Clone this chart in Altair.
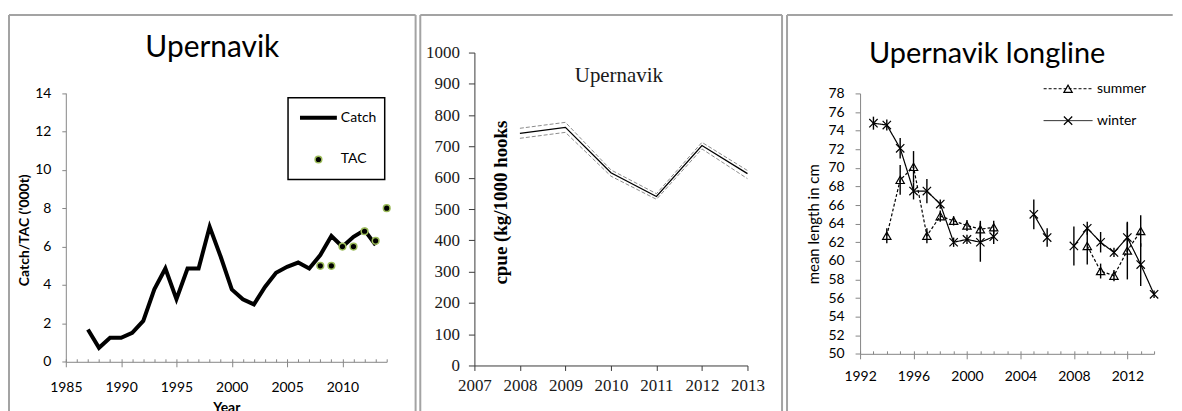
import altair as alt
import pandas as pd

# ---------------- Panel 1: catch and TAC ----------------
catch_years = list(range(1987, 2014))
catch_vals = [1.68, 0.73, 1.25, 1.25, 1.51, 2.13, 3.77, 4.86, 3.26, 4.86, 4.86,
              7.03, 5.47, 3.77, 3.26, 2.99, 3.90, 4.64, 4.95, 5.17, 4.86, 5.56,
              6.55, 5.99, 6.51, 6.86, 6.08]
tac_years = [2008, 2009, 2010, 2011, 2012, 2013, 2014]
tac_vals = [5.0, 5.0, 6.0, 6.0, 6.8, 6.3, 8.0]
legend1_names = ["Catch", "TAC"]
x1_ticks = [1985, 1990, 1995, 2000, 2005, 2010]
y1_ticks = [0, 2, 4, 6, 8, 10, 12, 14]

# ---------------- Panel 2: cpue ----------------
cpue_years = [2008, 2009, 2010, 2011, 2012, 2013]
cpue_mid = [742, 761, 616, 540, 703, 613]
cpue_upper = [758, 777, 625, 549, 713, 623]
cpue_lower = [726, 745, 605, 531, 692, 597]
x2_ticks = [2007, 2008, 2009, 2010, 2011, 2012, 2013]
y2_ticks = [0, 100, 200, 300, 400, 500, 600, 700, 800, 900, 1000]

# ---------------- Panel 3: mean length ----------------
winter_years = [1993, 1994, 1995, 1996, 1997, 1998, 1999, 2000, 2001, 2002,
                2005, 2006, 2008, 2009, 2010, 2011, 2012, 2013, 2014]
winter_vals = [74.8, 74.6, 72.1, 67.5, 67.5, 66.1, 62.0, 62.3, 62.0, 62.6,
               65.0, 62.5, 61.6, 63.5, 62.0, 60.9, 62.5, 59.6, 56.4]
winter_err = [0.7, 0.6, 1.1, 0.9, 1.3, 0.5, 0.5, 0.5, 2.1, 0.8,
              1.6, 1.0, 2.1, 0.7, 1.1, 0.5, 1.6, 2.3, 0.4]
summer_years = [1994, 1995, 1996, 1997, 1998, 1999, 2000, 2001, 2002,
                2009, 2010, 2011, 2012, 2013]
summer_vals = [62.7, 68.7, 70.1, 62.7, 64.8, 64.3, 63.8, 63.4, 63.6,
               61.6, 58.9, 58.4, 61.1, 63.2]
summer_err = [0.8, 1.6, 1.7, 0.8, 0.6, 0.5, 0.6, 0.9, 0.7,
              2.0, 0.8, 0.6, 3.1, 1.7]
season_names = ["summer", "winter"]
x3_ticks = [1992, 1996, 2000, 2004, 2008, 2012]
y3_ticks = list(range(50, 79, 2))

# ---------------- styling ----------------
FONT = "Lato"
SERIF = "Liberation Serif"
AX = "#868686"
AX2 = "#3a3a3a"
BORDER = "#a3a3a3"
one = pd.DataFrame({"k": [0]})
Y0 = 51.7  # page y of every panel's plot-area top


def borders(left, top, right, bottom, right_side=True):
    layers = [
        alt.Chart(one).mark_rule(color=BORDER, strokeWidth=2).encode(
            x=alt.value(left), y=alt.value(top), y2=alt.value(bottom)),
        alt.Chart(one).mark_rule(color=BORDER, strokeWidth=2).encode(
            x=alt.value(left), x2=alt.value(right), y=alt.value(top)),
    ]
    if right_side:
        layers.append(alt.Chart(one).mark_rule(color=BORDER, strokeWidth=2).encode(
            x=alt.value(right), y=alt.value(top), y2=alt.value(bottom)))
    return layers


# ================= Panel 1 =================
OX1 = 66
W1, H1 = 322, 362 - Y0
TOP1 = 92.3 - Y0
df_catch = pd.DataFrame({"year": catch_years, "value": catch_vals})
df_tac = pd.DataFrame({"year": tac_years, "value": tac_vals, "series": "TAC"})

x1_scale = alt.Scale(domain=[1985, 2014], nice=False, zero=False)
y1_scale = alt.Scale(domain=[0, 14], nice=False, zero=False, range=[H1, TOP1])
x1 = alt.X("year:Q", scale=x1_scale, axis=alt.Axis(
    values=x1_ticks, format="d", title="Year", titleFont=FONT, titleFontSize=14,
    titleFontWeight="bold", titleColor="black", titleY=50, titleBaseline="alphabetic",
    labelFont=FONT, labelFontSize=14, labelColor="black", labelPadding=14,
    tickSize=5, tickColor=AX, domainColor=AX, grid=False, labelFlush=False))
y1 = alt.Y("value:Q", scale=y1_scale, axis=alt.Axis(
    values=y1_ticks, title="Catch/TAC ('000t)", titleFont=FONT, titleFontSize=14,
    titleFontWeight="bold", titleColor="black", titleX=-41, titleY=229.5 - Y0,
    titleAngle=270, titleAlign="center", titleBaseline="middle",
    labelFont=FONT, labelFontSize=14, labelColor="black", labelPadding=11,
    labelOverlap=False, tickSize=4, tickColor=AX, domainColor=AX, grid=False))
x1_minor = alt.X("year:Q", scale=x1_scale, axis=alt.Axis(
    orient="top", offset=-H1, values=list(range(1985, 2015)), labels=False,
    domain=False, tickSize=3, tickColor=AX, title=None, grid=False))

legend1 = alt.Legend(title=None, orient="none", legendX=289 - OX1, legendY=97 - Y0,
                     strokeColor="black", fillColor="white", padding=8, clipHeight=24,
                     rowPadding=18, symbolOffset=2, labelOffset=2, labelFont=FONT,
                     labelFontSize=14, labelColor="black")

catch_line = alt.Chart(df_catch).mark_line(color="black", strokeWidth=4).encode(x=x1, y=y1)
tac_pts = alt.Chart(df_tac).mark_point(filled=True, opacity=1).encode(
    x=alt.X("year:Q", scale=x1_scale, axis=None), y=y1,
    shape=alt.Shape("series:N", scale=alt.Scale(domain=legend1_names, range=["M-1,0L1,0", "circle"]), legend=legend1),
    size=alt.Size("series:N", scale=alt.Scale(domain=legend1_names, range=[1369, 45]), legend=legend1),
    stroke=alt.Stroke("series:N", scale=alt.Scale(domain=legend1_names, range=["black", "#9bbb59"]), legend=legend1),
    strokeWidth=alt.StrokeWidth("series:N", scale=alt.Scale(domain=legend1_names, range=[4, 1.5]), legend=legend1),
    fill=alt.value("black"))
minor1 = alt.Chart(df_catch).mark_point(opacity=0).encode(x=x1_minor)

p1 = alt.layer(
    *borders(9 - OX1, 14 - Y0, 417 - OX1, 420 - Y0),
    catch_line, tac_pts, minor1
).resolve_axis(x="independent").properties(
    width=W1, height=H1,
    title=alt.TitleParams("Upernavik", font=FONT, fontSize=30, fontWeight="normal",
                          color="black", frame="group", anchor="middle", dx=-14,
                          offset=-73, baseline="alphabetic"))

# ================= Panel 2 =================
OX2 = 475.3
W2, H2 = 274, 314
df_cpue = pd.DataFrame({
    "year": cpue_years * 3,
    "value": cpue_mid + cpue_upper + cpue_lower,
    "band": ["estimate"] * len(cpue_years) + ["upper"] * len(cpue_years) + ["lower"] * len(cpue_years),
})
x2_scale = alt.Scale(domain=[2007, 2013], nice=False, zero=False)
y2_scale = alt.Scale(domain=[0, 1000], nice=False, zero=False)
x2 = alt.X("year:Q", scale=x2_scale, axis=alt.Axis(
    values=x2_ticks, format="d", title=None, labelFont=SERIF, labelFontSize=17,
    labelColor="#1a1a1a", tickSize=5, tickColor=AX2, domainColor=AX2,
    labelPadding=7, labelFlush=False, labelOverlap=False, grid=False))
y2 = alt.Y("value:Q", scale=y2_scale, axis=alt.Axis(
    values=y2_ticks, format="d", title="cpue (kg/1000 hooks", titleFont=SERIF, titleFontSize=19,
    titleFontWeight="bold", titleColor="black", titleX=26, titleY=150,
    titleAngle=270, titleAlign="center", titleBaseline="middle",
    labelFont=SERIF, labelFontSize=17, labelColor="#1a1a1a", labelPadding=9,
    labelOverlap=False, tickSize=6, tickColor=AX2, domainColor=AX2, grid=False))

band_lines = alt.Chart(df_cpue).transform_filter(alt.datum.band != "estimate").mark_line(
    color="#8c8c8c", strokeWidth=1, strokeDash=[4, 2]).encode(x=x2, y=y2, detail="band:N")
mid_line = alt.Chart(df_cpue).transform_filter(alt.datum.band == "estimate").mark_line(
    color="black", strokeWidth=1.3).encode(x=x2, y=y2)

p2 = alt.layer(
    *borders(421 - OX2, 14 - Y0, 784 - OX2, 420 - Y0),
    mid_line, band_lines
).properties(
    width=W2, height=H2,
    title=alt.TitleParams("Upernavik", font=SERIF, fontSize=21, fontWeight="normal",
                          color="#1a1a1a", frame="group", anchor="middle", dx=8,
                          offset=-89, baseline="alphabetic"))

# ================= Panel 3 =================
OX3 = 860.3
W3, H3 = 295, 354 - Y0
TOP3 = 92.7 - Y0


def season_frame(years, vals, errs, name):
    d = pd.DataFrame({"year": years, "value": vals, "err": errs})
    d["season"] = name
    d["marker"] = name
    d["seg"] = (d["year"].diff().fillna(1) > 1).cumsum()
    d["lo"] = d["value"] - d["err"]
    d["hi"] = d["value"] + d["err"]
    return d


df3 = pd.concat([season_frame(summer_years, summer_vals, summer_err, "summer"),
                 season_frame(winter_years, winter_vals, winter_err, "winter")],
                ignore_index=True)

x3_scale = alt.Scale(domain=[1992, 2014], nice=False, zero=False)
y3_scale = alt.Scale(domain=[50, 78], nice=False, zero=False, range=[H3, TOP3])
x3 = alt.X("year:Q", scale=x3_scale, axis=alt.Axis(
    values=x3_ticks, format="d", title=None, labelFont=FONT, labelFontSize=14,
    labelColor="black", tickSize=5, tickColor=AX, domainColor=AX,
    labelPadding=11, labelFlush=False, labelOverlap=False, grid=False))
x3_none = alt.X("year:Q", scale=x3_scale, axis=None)
y3_axis = alt.Axis(
    values=y3_ticks, title="mean length in cm", titleFont=FONT, titleFontSize=15,
    titleFontWeight="normal", titleColor="black", titleX=-47, titleY=223.5 - Y0,
    titleAngle=270, titleAlign="center", titleBaseline="middle",
    labelFont=FONT, labelFontSize=14, labelColor="black", labelPadding=11,
    labelOverlap=False, tickSize=5, tickColor=AX, domainColor=AX, grid=False)
y3 = alt.Y("value:Q", scale=y3_scale, axis=y3_axis)
x3_minor = alt.X("year:Q", scale=x3_scale, axis=alt.Axis(
    orient="top", offset=-H3, values=list(range(1992, 2015)), labels=False,
    domain=False, tickSize=3, tickColor=AX, title=None, grid=False))

LX3, LY3 = 1044 - OX3, 63 - Y0
legend3_line = alt.Legend(title=None, orient="none", legendX=LX3, legendY=LY3,
                          symbolType="stroke", symbolSize=2400, symbolStrokeWidth=1,
                          symbolStrokeColor="black", padding=0, rowPadding=-18,
                          labelOffset=4, labelFont=FONT, labelFontSize=14, labelColor="black")
legend3_pts = alt.Legend(title=None, orient="none", legendX=LX3 + 18, legendY=LY3 + 18,
                         values=season_names, labelExpr="''",
                         symbolSize=70, symbolStrokeWidth=1.2, symbolStrokeColor="black",
                         symbolFillColor="white", padding=0, rowPadding=18,
                         labelFontSize=14, labelFont=FONT)

lines3 = alt.Chart(df3).mark_line(color="black", strokeWidth=1.2).encode(
    x=x3, y=y3, detail="seg:N",
    strokeDash=alt.StrokeDash("season:N", scale=alt.Scale(domain=season_names, range=[[3, 2], [1, 0]]),
                              legend=legend3_line))
errs3 = alt.Chart(df3).mark_rule(color="black", strokeWidth=1.4).encode(
    x=x3_none, y=alt.Y("lo:Q", scale=y3_scale, axis=y3_axis), y2="hi:Q")
# the marker scale carries one unused extra domain entry so that its legend stays separate
pts3 = alt.Chart(df3).mark_point(filled=False, opacity=1, color="black", strokeWidth=1.2, size=70).encode(
    x=x3_none, y=y3,
    shape=alt.Shape("marker:N",
                    scale=alt.Scale(domain=season_names + ["other"],
                                    range=["triangle-up", "M-1,-1L1,1M-1,1L1,-1", "circle"]),
                    legend=legend3_pts))
minor3 = alt.Chart(df3).mark_point(opacity=0).encode(x=x3_minor)

p3 = alt.layer(
    *borders(787 - OX3, 14 - Y0, 1174 - OX3, 420 - Y0, right_side=False),
    lines3, errs3, pts3, minor3
).resolve_axis(x="independent").properties(
    width=W3, height=H3,
    title=alt.TitleParams("Upernavik longline", font=FONT, fontSize=29, fontWeight="normal",
                          color="black", frame="group", anchor="middle", dx=-20,
                          offset=-78, baseline="alphabetic"))

IND = "independent"
chart = alt.hconcat(p1, p2, p3, spacing=2).resolve_scale(
    shape=IND, size=IND, stroke=IND, strokeWidth=IND, strokeDash=IND
).resolve_legend(
    shape=IND, size=IND, stroke=IND, strokeWidth=IND, strokeDash=IND
).properties(
    padding={"left": 0, "top": 5, "right": 0, "bottom": 0}
).configure_view(stroke=None).configure_legend(strokeWidth=1.5)

chart.save("out.html", embed_options={"renderer": "svg", "actions": False})
